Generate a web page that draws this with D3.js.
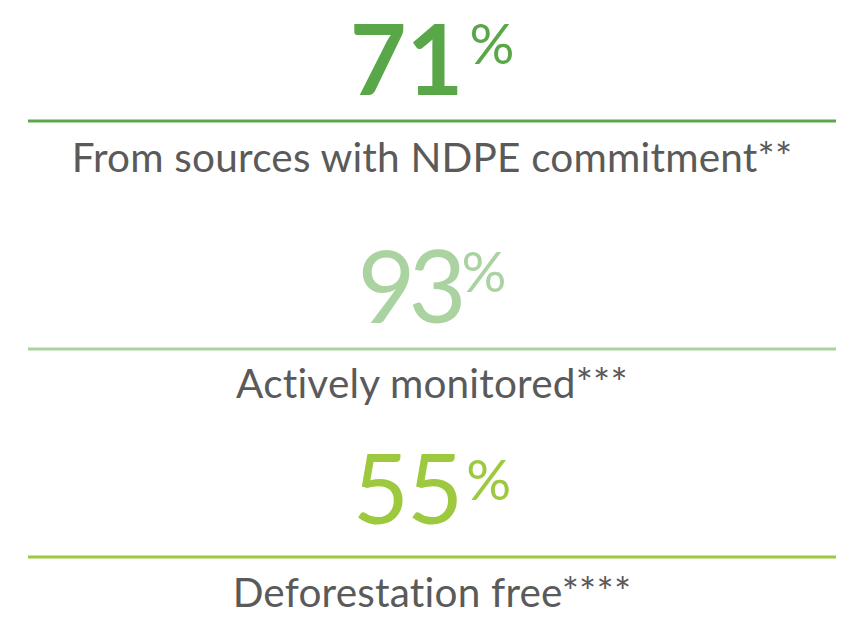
<!DOCTYPE html>
<html>
<head>
<meta charset="utf-8">
<script src="https://cdn.jsdelivr.net/npm/d3@7"></script>
<style>
  body { margin: 0; background: #fff; }
</style>
</head>
<body>
<div id="app"></div>
<script>
// figures shown, top to bottom
const values = [71, 93, 55];
const labels = ["From sources with NDPE commitment**", "Actively monitored***", "Deforestation free****"];
const colors = ["#5aa74a", "#abd3a1", "#9cc93e"];

const draw = () => {
    const width = 855;
    const height = 632;
    const cx = 432;

    const svg = d3.select('#app')
        .append('svg')
        .attr('width', width)
        .attr('height', height)
        .style('font-family', 'Lato, sans-serif');

    // rows are not evenly spaced in the original
    const rowTop = d3.scaleOrdinal()
        .domain(labels)
        .range([0, 228, 436]);

    const numSize = d3.scaleOrdinal().domain(labels).range([98, 100, 97]);
    const numWeight = d3.scaleOrdinal().domain(labels).range([700, 400, 400]);
    const numSpacing = d3.scaleOrdinal().domain(labels).range([0, -7, -2]);
    const pctGap = d3.scaleOrdinal().domain(labels).range([6, 2, 5]);
    const labelY = d3.scaleOrdinal().domain(labels).range([172, 170, 171]);

    const rows = svg.selectAll('g.row')
        .data(values.map((v, i) => ({ value: v, label: labels[i], color: colors[i] })))
        .enter()
        .append('g')
        .attr('class', 'row')
        .attr('transform', d => 'translate(0,' + rowTop(d.label) + ')');

    // big number
    rows.append('text')
        .attr('class', 'num')
        .attr('y', d => d.label === labels[2] ? 88 : 95)
        .attr('fill', d => d.color)
        .attr('font-size', d => numSize(d.label))
        .attr('font-weight', d => numWeight(d.label))
        .style('letter-spacing', d => numSpacing(d.label) + 'px')
        .text(d => d.value);

    rows.append('text')
        .attr('class', 'pct')
        .attr('y', 64)
        .attr('fill', d => d.color)
        .attr('font-size', 56)
        .attr('font-weight', 400)
        .text('%');

    // center number + percent as one group
    rows.each(function (d) {
        const g = d3.select(this);
        const n = g.select('text.num').node();
        const p = g.select('text.pct').node();
        const w1 = n.getComputedTextLength();
        const w2 = p.getComputedTextLength();
        const gap = pctGap(d.label);
        const x0 = cx - (w1 + gap + w2) / 2;
        d3.select(n).attr('x', x0);
        d3.select(p).attr('x', x0 + w1 + gap);
    });

    // divider
    rows.append('line')
        .attr('x1', 28)
        .attr('x2', 836)
        .attr('y1', 121)
        .attr('y2', 121)
        .attr('stroke', d => d.color)
        .attr('stroke-width', 3);

    rows.append('text')
        .attr('x', cx)
        .attr('y', d => labelY(d.label))
        .attr('text-anchor', 'middle')
        .attr('fill', '#5a5a5a')
        .attr('font-size', 40.5)
        .style('letter-spacing', '0.2px')
        .text(d => d.label);
};

draw();
</script>
</body>
</html>
